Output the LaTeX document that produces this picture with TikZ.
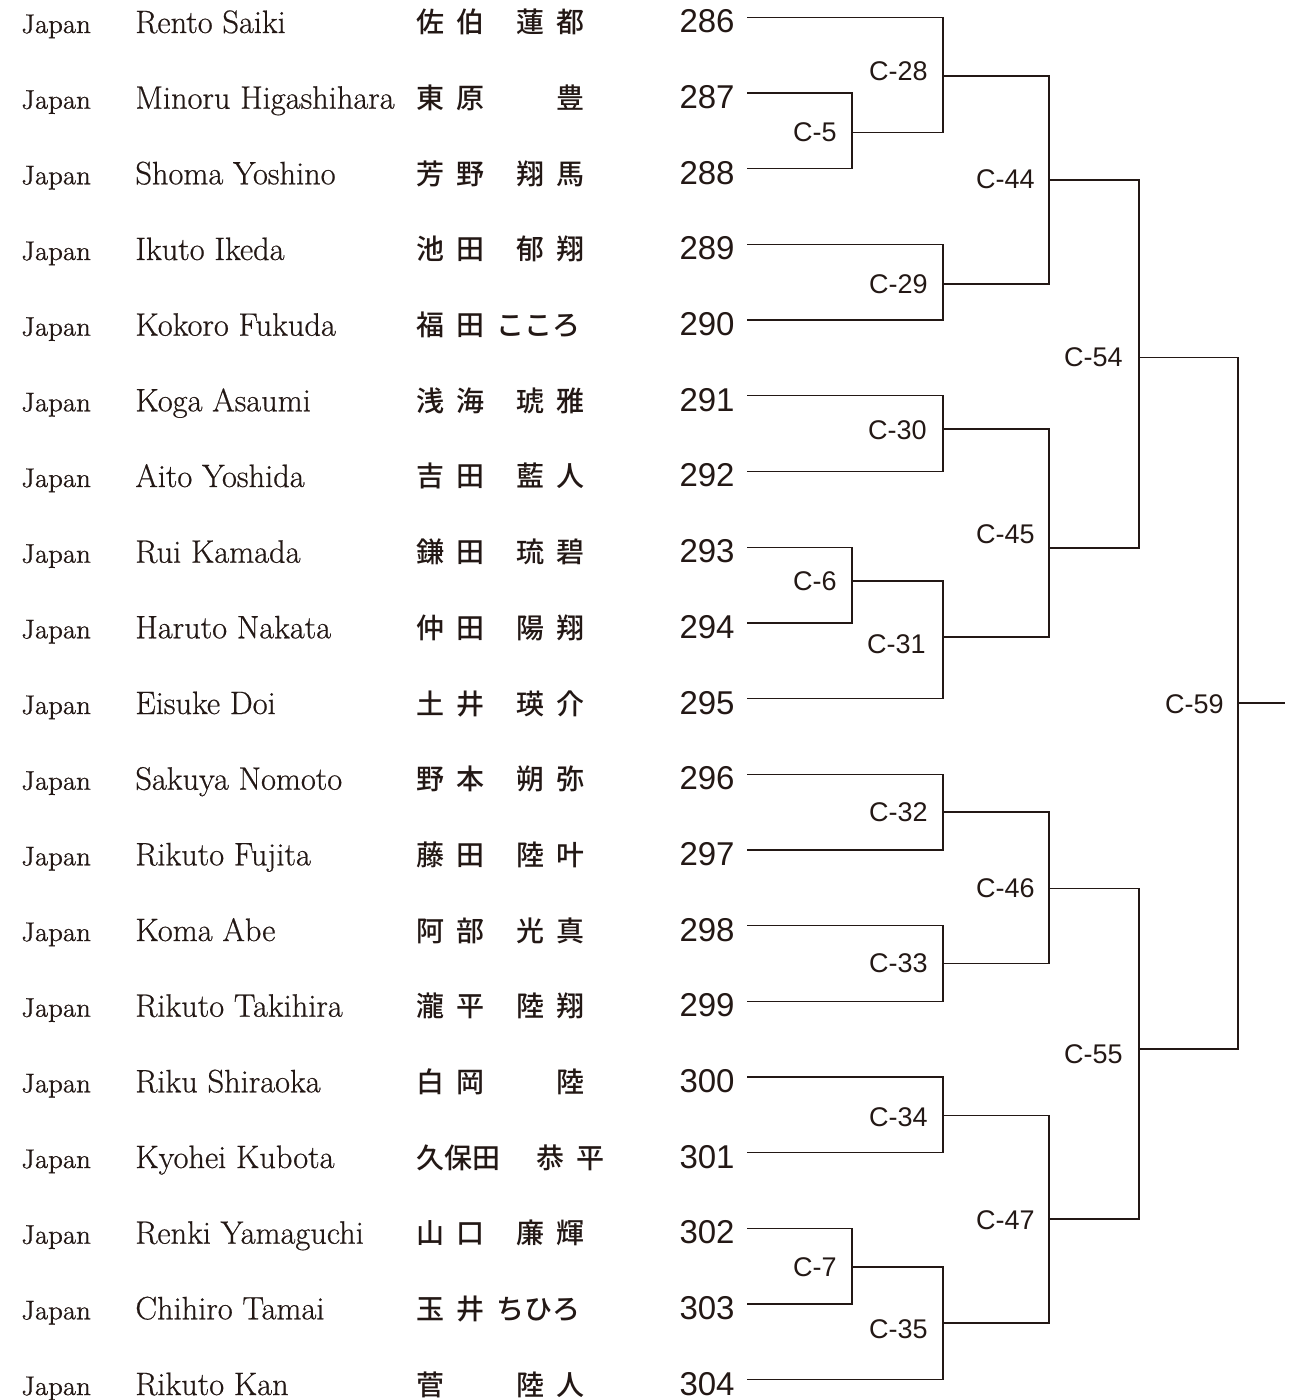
\documentclass[tikz,border=0pt]{standalone}
\usepackage{fontspec}
\newfontfamily\numfont{Liberation Sans}
\newfontfamily\enfont{Latin Modern Roman}[FakeBold=0.6]
\newfontfamily\jpfont{Noto Sans CJK JP}[UprightFont=* Medium]
\usetikzlibrary{positioning}

\definecolor{ink}{RGB}{35,24,21}

% four kanji slots: family name, gap, given name
\newcommand{\kname}[4]{\makebox[20pt][l]{#1}\makebox[30pt][l]{#2}\makebox[20pt][l]{#3}#4}

\begin{document}
\begin{tikzpicture}[
    x=0.5pt, y=-0.5pt,
    every node/.style={text=ink},
    cty/.style={anchor=base west, inner sep=0pt, font={\enfont\fontsize{13.5}{15}\selectfont}},
    ename/.style={anchor=base west, inner sep=0pt, font={\enfont\fontsize{16.2}{19}\selectfont}},
    jname/.style={anchor=base west, inner sep=0pt, font={\jpfont\fontsize{14}{16}\selectfont}},
    num/.style={anchor=base east, inner xsep=6pt, inner ysep=0pt, text height=15.5pt, text depth=0pt,
        font={\numfont\fontsize{16.5}{18}\selectfont}},
    mlbl/.style={anchor=east, inner sep=0pt, font={\numfont\fontsize{13.5}{15}\selectfont}},
    wire/.style={draw=ink, line width=0.7pt}
]
\useasboundingbox (0,0) rectangle (1303,1400);

% ---- Entries: country, name, kanji, number ----
\node[cty] (j286) at (21, 33) {Japan};
\node[ename] (e286) at (135, 33) {Rento Saiki};
\node[jname] (k286) at (416, 33) {\kname{佐}{伯}{蓮}{都}};
\node[num] (n286) at (747, 33) {286};

\node[cty] (j287) at (21, 108.7) {Japan};
\node[ename] (e287) at (135, 108.7) {Minoru Higashihara};
\node[jname] (k287) at (416, 108.7) {\kname{東}{原}{}{豊}};
\node[num] (n287) at (747, 108.7) {287};

\node[cty] (j288) at (21, 184.3) {Japan};
\node[ename] (e288) at (135, 184.3) {Shoma Yoshino};
\node[jname] (k288) at (416, 184.3) {\kname{芳}{野}{翔}{馬}};
\node[num] (n288) at (747, 184.3) {288};

\node[cty] (j289) at (21, 260) {Japan};
\node[ename] (e289) at (135, 260) {Ikuto Ikeda};
\node[jname] (k289) at (416, 260) {\kname{池}{田}{郁}{翔}};
\node[num] (n289) at (747, 260) {289};

\node[cty] (j290) at (21, 335.7) {Japan};
\node[ename] (e290) at (135, 335.7) {Kokoro Fukuda};
\node[jname] (k290) at (416, 335.7) {\makebox[20pt][l]{福}\makebox[20pt][l]{田}こころ};
\node[num] (n290) at (747, 335.7) {290};

\node[cty] (j291) at (21, 411.3) {Japan};
\node[ename] (e291) at (135, 411.3) {Koga Asaumi};
\node[jname] (k291) at (416, 411.3) {\kname{浅}{海}{琥}{雅}};
\node[num] (n291) at (747, 411.3) {291};

\node[cty] (j292) at (21, 487) {Japan};
\node[ename] (e292) at (135, 487) {Aito Yoshida};
\node[jname] (k292) at (416, 487) {\kname{吉}{田}{藍}{人}};
\node[num] (n292) at (747, 487) {292};

\node[cty] (j293) at (21, 562.7) {Japan};
\node[ename] (e293) at (135, 562.7) {Rui Kamada};
\node[jname] (k293) at (416, 562.7) {\kname{鎌}{田}{琉}{碧}};
\node[num] (n293) at (747, 562.7) {293};

\node[cty] (j294) at (21, 638.3) {Japan};
\node[ename] (e294) at (135, 638.3) {Haruto Nakata};
\node[jname] (k294) at (416, 638.3) {\kname{仲}{田}{陽}{翔}};
\node[num] (n294) at (747, 638.3) {294};

\node[cty] (j295) at (21, 714) {Japan};
\node[ename] (e295) at (135, 714) {Eisuke Doi};
\node[jname] (k295) at (416, 714) {\kname{土}{井}{瑛}{介}};
\node[num] (n295) at (747, 714) {295};

\node[cty] (j296) at (21, 789.7) {Japan};
\node[ename] (e296) at (135, 789.7) {Sakuya Nomoto};
\node[jname] (k296) at (416, 789.7) {\kname{野}{本}{朔}{弥}};
\node[num] (n296) at (747, 789.7) {296};

\node[cty] (j297) at (21, 865.3) {Japan};
\node[ename] (e297) at (135, 865.3) {Rikuto Fujita};
\node[jname] (k297) at (416, 865.3) {\kname{藤}{田}{陸}{叶}};
\node[num] (n297) at (747, 865.3) {297};

\node[cty] (j298) at (21, 941) {Japan};
\node[ename] (e298) at (135, 941) {Koma Abe};
\node[jname] (k298) at (416, 941) {\kname{阿}{部}{光}{真}};
\node[num] (n298) at (747, 941) {298};

\node[cty] (j299) at (21, 1016.7) {Japan};
\node[ename] (e299) at (135, 1016.7) {Rikuto Takihira};
\node[jname] (k299) at (416, 1016.7) {\kname{瀧}{平}{陸}{翔}};
\node[num] (n299) at (747, 1016.7) {299};

\node[cty] (j300) at (21, 1092.3) {Japan};
\node[ename] (e300) at (135, 1092.3) {Riku Shiraoka};
\node[jname] (k300) at (416, 1092.3) {\kname{白}{岡}{}{陸}};
\node[num] (n300) at (747, 1092.3) {300};

\node[cty] (j301) at (21, 1168) {Japan};
\node[ename] (e301) at (135, 1168) {Kyohei Kubota};
\node[jname] (k301) at (416, 1168) {\makebox[60pt][l]{久保田}\makebox[20pt][l]{恭}平};
\node[num] (n301) at (747, 1168) {301};

\node[cty] (j302) at (21, 1243.7) {Japan};
\node[ename] (e302) at (135, 1243.7) {Renki Yamaguchi};
\node[jname] (k302) at (416, 1243.7) {\kname{山}{口}{廉}{輝}};
\node[num] (n302) at (747, 1243.7) {302};

\node[cty] (j303) at (21, 1319.3) {Japan};
\node[ename] (e303) at (135, 1319.3) {Chihiro Tamai};
\node[jname] (k303) at (416, 1319.3) {\makebox[20pt][l]{玉}\makebox[20pt][l]{井}ちひろ};
\node[num] (n303) at (747, 1319.3) {303};

\node[cty] (j304) at (21, 1395) {Japan};
\node[ename] (e304) at (135, 1395) {Rikuto Kan};
\node[jname] (k304) at (416, 1395) {\kname{菅}{}{陸}{人}};
\node[num] (n304) at (747, 1395) {304};

% ---- Match points ----
\coordinate (c5)  at (852, 132.5);
\coordinate (c28) at (943, 76);
\coordinate (c29) at (943, 284);
\coordinate (c44) at (1049, 180);
\coordinate (c30) at (943, 429);
\coordinate (c6)  at (852, 581);
\coordinate (c31) at (943, 637);
\coordinate (c45) at (1049, 548);
\coordinate (c54) at (1139, 357.5);
\coordinate (c32) at (943, 812);
\coordinate (c33) at (943, 963.5);
\coordinate (c46) at (1049, 888.5);
\coordinate (c34) at (943, 1115.5);
\coordinate (c7)  at (852, 1267);
\coordinate (c35) at (943, 1323);
\coordinate (c47) at (1049, 1219);
\coordinate (c55) at (1139, 1049);
\coordinate (c59) at (1238, 703);
\coordinate (fin) at (1285, 703);

% ---- Bracket lines ----
\draw[wire] (n287.east) -| (c5) |- (n288.east);
\draw[wire] (n286.east) -| (c28) |- (c5);
\draw[wire] (n289.east) -| (c29) |- (n290.east);
\draw[wire] (c28) -| (c44) |- (c29);
\draw[wire] (n291.east) -| (c30) |- (n292.east);
\draw[wire] (n293.east) -| (c6) |- (n294.east);
\draw[wire] (c6) -| (c31) |- (n295.east);
\draw[wire] (c30) -| (c45) |- (c31);
\draw[wire] (c44) -| (c54) |- (c45);
\draw[wire] (n296.east) -| (c32) |- (n297.east);
\draw[wire] (n298.east) -| (c33) |- (n299.east);
\draw[wire] (c32) -| (c46) |- (c33);
\draw[wire] (n300.east) -| (c34) |- (n301.east);
\draw[wire] (n302.east) -| (c7) |- (n303.east);
\draw[wire] (c7) -| (c35) |- (n304.east);
\draw[wire] (c34) -| (c47) |- (c35);
\draw[wire] (c46) -| (c55) |- (c47);
\draw[wire] (c54) -| (c59) |- (c55);
\draw[wire] (c59) -- (fin);

% ---- Match labels ----
\node[mlbl] (lc28) at (928, 71) {C-28};
\node[mlbl] (lc5)  at (837, 132.5) {C-5};
\node[mlbl] (lc44) at (1035, 179) {C-44};
\node[mlbl] (lc29) at (928, 284) {C-29};
\node[mlbl] (lc30) at (927, 430) {C-30};
\node[mlbl] (lc45) at (1035, 534) {C-45};
\node[mlbl] (lc6)  at (837, 581) {C-6};
\node[mlbl] (lc31) at (926, 644) {C-31};
\node[mlbl] (lc54) at (1123, 357) {C-54};
\node[mlbl] (lc59) at (1224, 704) {C-59};
\node[mlbl] (lc32) at (928, 812) {C-32};
\node[mlbl] (lc33) at (928, 963) {C-33};
\node[mlbl] (lc46) at (1035, 888) {C-46};
\node[mlbl] (lc34) at (928, 1117) {C-34};
\node[mlbl] (lc47) at (1035, 1220) {C-47};
\node[mlbl] (lc7)  at (837, 1267) {C-7};
\node[mlbl] (lc35) at (928, 1329) {C-35};
\node[mlbl] (lc55) at (1123, 1054) {C-55};

\end{tikzpicture}
\end{document}
